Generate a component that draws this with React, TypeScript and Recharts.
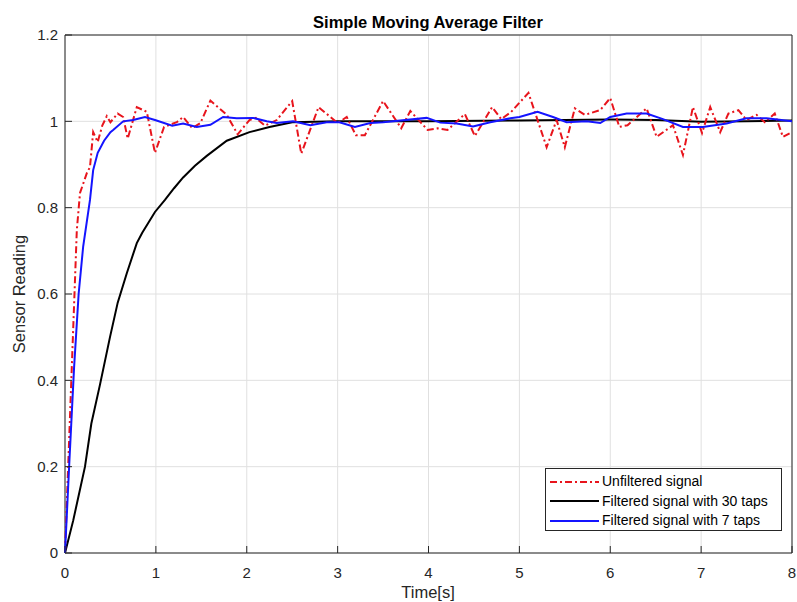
import React from 'react';
import {
  LineChart,
  Line,
  XAxis,
  YAxis,
  CartesianGrid,
  Legend,
  ReferenceArea,
  Label
} from 'recharts';

// axis ticks
const xTicks = [0, 1, 2, 3, 4, 5, 6, 7, 8];
const yTicks = [0, 0.2, 0.4, 0.6, 0.8, 1, 1.2];

// unfiltered signal (time, reading)
const rawTime = [
  0, 0.13, 0.165, 0.24, 0.275, 0.31, 0.36, 0.41, 0.46, 0.5, 0.58, 0.64, 0.69, 0.79, 0.9, 0.99,
  1.09, 1.23, 1.3, 1.4, 1.49, 1.6, 1.78, 1.9, 2.03, 2.1, 2.2, 2.33, 2.5, 2.6, 2.79, 3.0,
  3.1, 3.2, 3.3, 3.5, 3.7, 3.8, 3.99, 4.1, 4.21, 4.4, 4.51, 4.7, 4.8, 4.91, 5.1, 5.3,
  5.41, 5.5, 5.61, 5.72, 5.89, 6.0, 6.1, 6.19, 6.4, 6.51, 6.69, 6.8, 6.91, 7.01, 7.1, 7.21,
  7.3, 7.41, 7.5, 7.61, 7.7, 7.81, 7.9, 8.0
];
const rawValue = [
  0, 0.748, 0.834, 0.88, 0.894, 0.975, 0.952, 0.99, 1.012, 0.998, 1.018, 1.01, 0.96, 1.033, 1.022, 0.927,
  0.987, 0.998, 1.01, 0.984, 0.996, 1.048, 1.015, 0.97, 1.003, 1.008, 0.99, 1.003, 1.047, 0.925, 1.033, 0.996,
  1.01, 0.968, 0.968, 1.047, 0.984, 1.024, 0.98, 0.984, 0.98, 1.017, 0.966, 1.033, 1.005, 1.022, 1.066, 0.94,
  1.003, 0.94, 1.03, 1.015, 1.026, 1.054, 0.987, 0.991, 1.03, 0.964, 0.991, 0.922, 1.033, 0.973, 1.033, 0.975,
  1.018, 1.026, 1.003, 1.015, 0.998, 1.018, 0.964, 0.975
];

// 30 taps
const slowTime = [
  0, 0.09, 0.22, 0.29, 0.385, 0.495, 0.58, 0.68, 0.79, 0.85, 0.99, 1.1, 1.2, 1.3, 1.43, 1.56,
  1.78, 2.03, 2.25, 2.5, 3.0, 4.0, 5.0, 6.0, 6.5, 7.0, 7.5, 8.0
];
const slowValue = [
  0, 0.075, 0.2, 0.3, 0.39, 0.5, 0.58, 0.648, 0.718, 0.742, 0.79, 0.818, 0.845, 0.87, 0.897, 0.92,
  0.955, 0.975, 0.987, 0.998, 1.0, 1.0, 1.002, 1.004, 1.003, 0.999, 1.0, 1.002
];

// 7 taps
const fastTime = [
  0, 0.05, 0.1, 0.15, 0.2, 0.275, 0.31, 0.36, 0.43, 0.5, 0.53, 0.64, 0.75, 0.88, 0.99, 1.18,
  1.3, 1.45, 1.6, 1.74, 1.89, 2.07, 2.22, 2.33, 2.51, 2.7, 2.88, 3.02, 3.19, 3.36, 3.5, 3.98,
  4.13, 4.31, 4.49, 4.68, 4.9, 5.0, 5.2, 5.37, 5.52, 5.74, 5.89, 6.0, 6.18, 6.4, 6.58, 6.8,
  7.02, 7.28, 7.5, 7.72, 8.0
];
const fastValue = [
  0, 0.22, 0.43, 0.6, 0.71, 0.818, 0.887, 0.927, 0.955, 0.975, 0.98, 1.0, 1.003, 1.01, 1.003, 0.99,
  0.995, 0.987, 0.992, 1.01, 1.007, 1.008, 1.0, 0.996, 1.0, 0.991, 0.998, 0.998, 0.987, 0.996, 0.998, 1.008,
  0.997, 0.995, 0.988, 0.998, 1.007, 1.01, 1.022, 1.01, 0.998, 1.0, 0.996, 1.01, 1.018, 1.018, 1.005, 0.987,
  0.987, 0.995, 1.007, 1.007, 1.0
];

const toPoints = (t: number[], v: number[]) => t.map((x, i) => ({ t: x, v: v[i] }));

const rawData = toPoints(rawTime, rawValue);
const slowData = toPoints(slowTime, slowValue);
const fastData = toPoints(fastTime, fastValue);

const FONT = '"Liberation Sans", Arial, Helvetica, sans-serif';
const AXIS_COLOR = '#262626';
const RED = '#e8141c';
const BLUE = '#1414ff';

const legendItems = [
  { label: 'Unfiltered signal', color: RED, dash: '7 3 2 3' },
  { label: 'Filtered signal with 30 taps', color: '#000', dash: undefined },
  { label: 'Filtered signal with 7 taps', color: BLUE, dash: undefined }
];

const LegendBox = () => (
  <div
    style={{
      boxSizing: 'border-box',
      width: 237,
      height: 63,
      border: '1px solid #262626',
      background: '#fff',
      padding: '3px 0 0 4px',
      fontFamily: FONT,
      fontSize: 14,
      lineHeight: '19.5px',
      color: '#000'
    }}
  >
    {legendItems.map((item) => (
      <div key={item.label} style={{ display: 'flex', alignItems: 'center', height: 19.5 }}>
        <svg width={49} height={10} style={{ display: 'block' }}>
          <line
            x1={0}
            y1={5}
            x2={49}
            y2={5}
            stroke={item.color}
            strokeWidth={2}
            strokeDasharray={item.dash}
          />
        </svg>
        <span style={{ marginLeft: 3, whiteSpace: 'nowrap' }}>{item.label}</span>
      </div>
    ))}
  </div>
);

const tickStyle = { fontFamily: FONT, fontSize: 15, fill: AXIS_COLOR };

const App: React.FC = () => {
  return (
    <div style={{ position: 'absolute', left: 0, top: 0, background: '#fff' }}>
      <LineChart
        width={797}
        height={602}
        margin={{ top: 35, right: 5, bottom: 0, left: 0 }}
      >
        <CartesianGrid stroke="#e0e0e0" strokeWidth={1} />
        <XAxis
          dataKey="t"
          type="number"
          domain={[0, 8]}
          ticks={xTicks}
          allowDuplicatedCategory={false}
          height={49}
          tick={tickStyle}
          tickSize={-7}
          tickMargin={21}
          axisLine={false}
          tickLine={{ stroke: AXIS_COLOR }}
        >
          <Label
            content={() => (
              <text x={428} y={598} textAnchor="middle" fontFamily={FONT} fontSize={16.5} fill={AXIS_COLOR}>
                Time[s]
              </text>
            )}
          />
          <Label
            content={() => (
              <text
                x={428}
                y={28}
                textAnchor="middle"
                fontFamily={FONT}
                fontSize={16.5}
                fontWeight="bold"
                fill="#000"
              >
                Simple Moving Average Filter
              </text>
            )}
          />
        </XAxis>
        <XAxis
          xAxisId="top"
          orientation="top"
          type="number"
          domain={[0, 8]}
          ticks={xTicks}
          height={0}
          tick={false}
          tickSize={-7}
          axisLine={false}
          tickLine={{ stroke: AXIS_COLOR }}
        />
        <YAxis
          type="number"
          domain={[0, 1.2]}
          ticks={yTicks}
          width={65}
          tick={tickStyle}
          tickSize={-7}
          tickMargin={14}
          axisLine={false}
          tickLine={{ stroke: AXIS_COLOR }}
        >
          <Label
            content={() => (
              <text
                x={25}
                y={294}
                transform="rotate(-90 25 294)"
                textAnchor="middle"
                fontFamily={FONT}
                fontSize={16.5}
                fill={AXIS_COLOR}
              >
                Sensor Reading
              </text>
            )}
          />
        </YAxis>
        <YAxis
          yAxisId="right"
          orientation="right"
          type="number"
          domain={[0, 1.2]}
          ticks={yTicks}
          width={0}
          tick={false}
          tickSize={-7}
          axisLine={false}
          tickLine={{ stroke: AXIS_COLOR }}
        />
        <ReferenceArea x1={0} x2={8} y1={0} y2={1.2} fill="none" stroke={AXIS_COLOR} strokeWidth={1} />
        <Line
          data={slowData}
          dataKey="v"
          name="Filtered signal with 30 taps"
          type="linear"
          stroke="#000"
          strokeWidth={2}
          dot={false}
          isAnimationActive={false}
        />
        <Line
          data={rawData}
          dataKey="v"
          name="Unfiltered signal"
          type="linear"
          stroke={RED}
          strokeWidth={2}
          strokeDasharray="7 3 2 3"
          dot={false}
          isAnimationActive={false}
        />
        <Line
          data={fastData}
          dataKey="v"
          name="Filtered signal with 7 taps"
          type="linear"
          stroke={BLUE}
          strokeWidth={2}
          dot={false}
          isAnimationActive={false}
        />
        <Legend
          layout="vertical"
          align="center"
          verticalAlign="middle"
          content={<LegendBox />}
          wrapperStyle={{ left: 545, top: 468, width: 237, height: 63 }}
        />
      </LineChart>
    </div>
  );
};

export default App;
